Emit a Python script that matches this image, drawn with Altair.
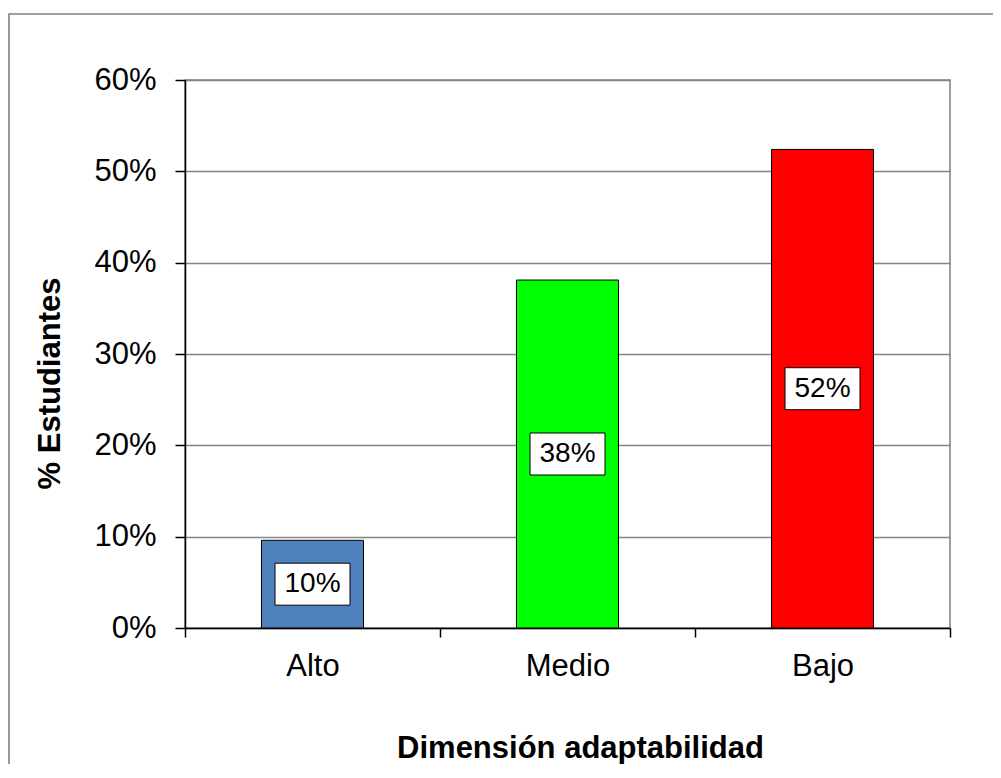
import altair as alt
import pandas as pd

categories = ["Alto", "Medio", "Bajo"]
values = [0.096, 0.381, 0.524]
colors = ["#4F81BD", "#00FF00", "#FF0000"]
y_ticks = [0, 0.1, 0.2, 0.3, 0.4, 0.5, 0.6]

df = pd.DataFrame({"cat": categories, "val": values, "color": colors})

FONT = "Liberation Sans"

x_enc = alt.X(
    "cat:N",
    sort=categories,
    scale=alt.Scale(paddingInner=0, paddingOuter=0),
    axis=alt.Axis(
        title="Dimensión adaptabilidad",
        labelAngle=0,
        tickBand="extent",
        grid=False,
        labelPadding=14,
        titlePadding=52,
        titleX=395,
        tickSize=9,
    ),
)
y_enc = alt.Y(
    "val:Q",
    scale=alt.Scale(domain=[0, 0.6], nice=False),
    axis=alt.Axis(
        title="% Estudiantes",
        values=y_ticks,
        format=".0%",
        grid=True,
        gridColor="#858585",
        gridWidth=1.5,
        tickSize=10,
        labelPadding=19,
        titlePadding=27,
        titleY=303,
    ),
)

base = alt.Chart(df)

frame = alt.Chart(alt.Data(values=[{"a": 1}])).mark_rect(
    fillOpacity=0, stroke="#808080", strokeWidth=1.6
).encode(
    x=alt.value(-176), y=alt.value(-66), x2=alt.value(900), y2=alt.value(800)
)

bars = base.mark_bar(
    width=alt.RelativeBandSize(0.4), stroke="black", strokeWidth=1
).encode(
    x=x_enc,
    y=y_enc,
    color=alt.Color("color:N", scale=None),
)

box = base.transform_calculate(mid="datum.val / 2").mark_point(
    shape="M-1,-0.56L1,-0.56L1,0.56L-1,0.56Z",
    size=5625,
    filled=True,
    fill="white",
    stroke="black",
    strokeWidth=1,
    opacity=1,
).encode(x=alt.X("cat:N", sort=categories), y=alt.Y("mid:Q"))

labels = base.transform_calculate(mid="datum.val / 2").mark_text(
    font=FONT, fontSize=28, color="black", baseline="middle", align="center"
).encode(
    x=alt.X("cat:N", sort=categories),
    y=alt.Y("mid:Q"),
    text=alt.Text("val:Q", format=".0%"),
)

chart = (
    alt.layer(frame, bars, box, labels)
    .properties(
        width=765,
        height=548,
        autosize=alt.AutoSizeParams(type="none"),
        padding={"left": 177, "top": 72, "right": 43, "bottom": 136},
        background="white",
    )
    .configure_view(stroke="#808080", strokeWidth=1.5)
    .configure_axis(
        labelFont=FONT,
        labelFontSize=31,
        labelColor="black",
        titleFont=FONT,
        titleFontSize=31,
        titleFontWeight="bold",
        titleColor="black",
        domainColor="black",
        domainWidth=1.5,
        tickColor="black",
        tickWidth=1.5,
    )
)

chart.save("out.html", embed_options={"renderer": "svg", "actions": False})
